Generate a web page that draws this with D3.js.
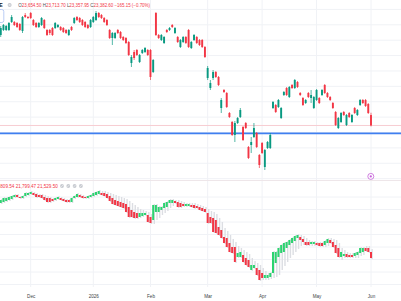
<!DOCTYPE html>
<html><head><meta charset="utf-8">
<script src="https://cdn.jsdelivr.net/npm/d3@7"></script>
<style>html,body{margin:0;padding:0;background:#fff;overflow:hidden}svg{display:block}</style>
</head><body><svg id="c" width="401" height="301"></svg>
<script>
// ---------- data ----------
const monthLabels = ["Dec","2026","Feb","Mar","Apr","May","Jun"];
const monthIndex  = [11,34,55,76,96,116,136];

const topOpen = [25735,25865,25865,25865,26073,26073,26047,26021,25839,26255,
26203,26307,26125,26047,25943,25995,26125,25865,25865,25917,
25917,25943,25943,25917,25865,25735,25943,26047,26203,26177,
26125,26073,25995,25943,26073,26125,26307,26255,26177,26125,
25865,25657,25657,25865,25813,25683,25657,25553,25007,25293,
25345,25033,25267,25293,25345,25345,24773,26307,25735,25605,
25527,25865,25865,25995,25787,25683,25423,25553,25683,25865,
25397,25605,25683,25605,25605,25423,24617,24357,24617,24773,
24643,23837,24305,24227,23707,23473,23135,23447,23603,23343,
23447,22823,22875,23083,23187,22615,22927,22303,22797,22797,
23837,23915,23863,23577,24175,24357,24123,24435,24357,24513,
24227,24097,23967,24227,24097,23837,24045,24097,24175,24435,
24227,24123,23967,23733,23317,23473,23733,23395,23707,23473,
23837,23655,23915,24045,24045,23941,23654.5];
const topHigh = [25969,26021,25995,26073,26255,26099,26073,26047,26229,26307,
26229,26333,26151,26073,26073,26203,26151,25891,25891,25943,
26073,26021,25969,25943,25891,25891,25969,26203,26229,26203,
26151,26099,26021,26151,26229,26359,26333,26281,26203,26151,
25891,25813,25813,25891,25839,25709,25683,25579,25215,25345,
25371,25241,25371,25423,25371,25371,25111,26333,25761,25761,
25709,25891,25943,26021,25943,25709,25631,25709,25709,25891,
25579,25761,25709,25631,25631,25449,24929,24565,24825,24799,
24669,24097,24331,24253,23733,23499,23499,23603,23837,23369,
23473,22849,23083,23447,23213,22641,22953,22771,22979,23187,
24019,23941,24071,23863,24279,24383,24409,24461,24591,24539,
24253,24123,24071,24253,24305,24149,24331,24123,24331,24461,
24253,24149,23993,23759,23603,23733,23759,23681,23733,23681,
23863,23811,24071,24071,24071,23967,23713.7];
const topLow = [25683,25839,25839,25839,26047,25969,25917,25839,25787,26177,
26151,26151,25969,25917,25917,25969,25891,25709,25735,25709,
25891,25917,25839,25787,25761,25709,25839,26021,26099,26047,
25969,25917,25891,25917,26047,26099,26177,26151,26047,25969,
25631,25475,25631,25761,25631,25579,25501,25189,24903,25085,
25189,25007,25241,25267,25189,24565,24747,25709,25631,25579,
25501,25787,25839,25917,25761,25527,25397,25527,25501,25397,
25371,25579,25501,25449,25397,25137,24565,24305,24565,24617,
24409,23707,24227,23837,23577,23109,22953,23421,23577,22979,
23291,22511,22667,23057,22797,22277,22641,22225,22771,22771,
23811,23707,23837,23551,24149,24149,24097,24331,24331,24357,
24149,23889,23941,24097,23967,23811,24019,23941,24149,24201,
24097,24019,23811,23369,23291,23447,23629,23369,23577,23447,
23681,23629,23889,23941,23863,23681,23357.95];
const topClose = [25917,25995,25969,26047,26203,25995,25943,25865,26203,26203,
26177,26177,25995,25943,26047,26177,25917,25735,25787,25735,
26047,25995,25865,25813,25787,25865,25865,26177,26125,26073,
25995,25943,25917,26125,26203,26307,26203,26177,26073,25995,
25657,25787,25787,25787,25657,25605,25527,25215,25163,25137,
25215,25215,25345,25397,25215,24643,25085,25735,25657,25735,
25683,25813,25917,25943,25917,25553,25605,25683,25527,25423,
25553,25735,25527,25475,25423,25163,24877,24487,24773,24643,
24435,24045,24253,23863,23603,23135,23447,23577,23785,23005,
23317,22537,22953,23317,22823,22355,22667,22745,22953,23135,
23993,23733,24045,23837,24253,24175,24383,24357,24565,24383,
24175,23915,24045,24123,24175,24123,24305,23967,24305,24227,
24123,24045,23837,23395,23577,23707,23655,23655,23603,23655,
23707,23785,24045,23967,23889,23707,23382.6];

const botOpen = [22630,22650,22670,22690,22710,22750,22790,22750,22730,22770,
22790,22810,22830,22810,22790,22790,22750,22730,22730,22710,
22690,22710,22730,22710,22690,22690,22650,22730,22750,22790,
22770,22750,22730,22750,22770,22790,22810,22830,22830,22810,
22770,22730,22690,22670,22650,22630,22610,22550,22490,22450,
22430,22350,22370,22390,22390,22350,22290,22450,22450,22490,
22530,22550,22630,22630,22670,22650,22630,22610,22570,22570,
22590,22590,22570,22550,22530,22510,22430,22350,22330,22290,
22150,22090,21950,21930,21830,21750,21750,21550,21550,21590,
21530,21490,21290,21330,21330,21290,21230,21130,21130,21150,
21230,21430,21550,21630,21650,21730,21790,21830,21870,21930,
21950,21910,21850,21850,21810,21810,21830,21830,21830,21790,
21830,21890,21850,21790,21730,21550,21570,21610,21590,21590,
21570,21590,21630,21650,21730,21730,21650];
const botHigh = [22710,22750,22750,22770,22790,22810,22810,22770,22790,22850,
22850,22870,22850,22830,22810,22810,22790,22770,22750,22730,
22750,22770,22750,22730,22710,22710,22750,22790,22830,22810,
22790,22770,22790,22810,22850,22870,22890,22870,22870,22850,
22830,22810,22790,22770,22750,22730,22710,22670,22630,22590,
22550,22510,22490,22470,22450,22410,22610,22610,22570,22570,
22650,22670,22710,22710,22690,22690,22670,22650,22630,22630,
22630,22630,22610,22590,22570,22550,22510,22470,22450,22410,
22330,22250,22130,22070,21990,21910,21850,21770,21730,21690,
21650,21610,21530,21470,21430,21390,21330,21270,21230,21250,
21670,21670,21750,21810,21850,21870,21910,21950,21990,22010,
21990,21970,21930,21890,21870,21870,21850,21850,21850,21890,
21930,21930,21910,21890,21830,21730,21690,21650,21630,21630,
21650,21670,21750,21750,21770,21770,21710];
const botLow = [22610,22630,22650,22670,22690,22730,22730,22710,22710,22750,
22770,22790,22770,22730,22730,22710,22670,22630,22630,22650,
22670,22690,22670,22650,22630,22630,22630,22710,22730,22730,
22710,22710,22710,22730,22750,22770,22790,22770,22750,22710,
22650,22590,22570,22550,22530,22510,22430,22330,22330,22310,
22310,22330,22350,22370,22230,22210,22210,22290,22330,22390,
22430,22470,22530,22570,22610,22530,22530,22550,22550,22550,
22530,22510,22510,22470,22450,22430,22210,22210,22030,22010,
21970,21910,21810,21730,21630,21610,21430,21530,21530,21430,
21370,21330,21270,21310,21170,21070,21090,21090,21090,21110,
21130,21150,21190,21290,21370,21450,21530,21590,21650,21710,
21770,21790,21770,21770,21770,21770,21770,21750,21750,21750,
21770,21810,21730,21610,21530,21490,21530,21530,21530,21530,
21530,21530,21570,21590,21650,21630,21510];
const botClose = [22690,22730,22730,22750,22770,22790,22750,22730,22770,22830,
22830,22850,22790,22750,22750,22730,22690,22650,22650,22670,
22730,22750,22690,22670,22650,22650,22730,22770,22810,22750,
22730,22730,22770,22790,22830,22850,22870,22790,22770,22730,
22670,22610,22590,22570,22550,22530,22450,22350,22350,22330,
22330,22430,22430,22430,22250,22230,22590,22590,22550,22550,
22630,22650,22690,22690,22630,22550,22550,22570,22610,22610,
22550,22530,22530,22490,22470,22450,22230,22230,22050,22030,
21990,21930,21830,21750,21650,21630,21450,21630,21650,21450,
21390,21350,21390,21390,21190,21090,21130,21190,21190,21230,
21650,21650,21730,21790,21830,21850,21890,21930,21970,21990,
21890,21850,21790,21790,21850,21850,21790,21770,21770,21870,
21910,21830,21750,21630,21550,21650,21610,21550,21550,21550,
21630,21650,21730,21730,21670,21650,21529.5];

const lastClose = 23382.6;
const hLineLevel = 23175;
const topGridValues = d3.range(22000, 26401, 400);
const botGridValues = d3.range(21000, 22751, 250);

// ---------- scales ----------
const svg = d3.select("#c");
const x = d3.scaleLinear().domain([0, 136]).range([0.73, 371]);
const yTop = d3.scaleLinear().domain([26645, 21965]).range([0, 180]);
const yBot = d3.scaleLinear().domain([26690, 20990]).range([0, 285]);

const UP = "#089981", DN = "#f23645", UP2 = "#2bd36f", DN2 = "#f23645", GHOST = "#dcdee3";

svg.append("rect").attr("width", 401).attr("height", 301).attr("fill", "#fff");
const defs = svg.append("defs");
defs.append("clipPath").attr("id", "cTop").append("rect").attr("x", 0).attr("y", 0).attr("width", 401).attr("height", 180);
defs.append("clipPath").attr("id", "cBot").append("rect").attr("x", 0).attr("y", 181).attr("width", 401).attr("height", 106);

// grid
const grid = svg.append("g");
grid.selectAll(".vg").data(monthIndex).enter().append("line")
  .attr("x1", d => x(d)).attr("x2", d => x(d)).attr("y1", 0).attr("y2", 287)
  .attr("stroke", "#f0f2f6").attr("stroke-width", 1);
grid.selectAll(".hg").data(topGridValues).enter().append("line")
  .attr("x1", 0).attr("x2", 401).attr("y1", d => yTop(d)).attr("y2", d => yTop(d))
  .attr("stroke", "#f0f2f6").attr("stroke-width", 1).attr("clip-path", "url(#cTop)");
grid.selectAll(".bg").data(botGridValues).enter().append("line")
  .attr("x1", 0).attr("x2", 401).attr("y1", d => yBot(d)).attr("y2", d => yBot(d))
  .attr("stroke", "#f0f2f6").attr("stroke-width", 1).attr("clip-path", "url(#cBot)");
// pane separator
svg.append("line").attr("x1", 0).attr("x2", 401).attr("y1", 180.5).attr("y2", 180.5)
  .attr("stroke", "#eee6e9").attr("stroke-width", 1);

// price line + horizontal drawing
svg.append("line").attr("x1", 0).attr("x2", 401).attr("y1", yTop(lastClose)).attr("y2", yTop(lastClose))
  .attr("stroke", "#f7cdd2").attr("stroke-width", 1);
svg.append("line").attr("x1", 0).attr("x2", 401).attr("y1", yTop(hLineLevel)).attr("y2", yTop(hLineLevel))
  .attr("stroke", "#3f7ff0").attr("stroke-width", 1.8);

// top candles
const topData = topOpen.map((o, i) => ({i, o, h: topHigh[i], l: topLow[i], c: topClose[i]}));
const gT = svg.append("g").attr("clip-path", "url(#cTop)");
gT.selectAll(".w").data(topData).enter().append("line")
  .attr("x1", d => x(d.i)).attr("x2", d => x(d.i))
  .attr("y1", d => yTop(d.h)).attr("y2", d => yTop(d.l))
  .attr("stroke", d => d.c >= d.o ? UP : DN).attr("stroke-width", 0.7);
gT.selectAll(".b").data(topData).enter().append("rect")
  .attr("x", d => x(d.i) - 0.95).attr("width", 1.9)
  .attr("y", d => yTop(Math.max(d.o, d.c)))
  .attr("height", d => Math.max(0.8, Math.abs(yTop(d.o) - yTop(d.c))))
  .attr("fill", d => d.c >= d.o ? UP : DN);

// bottom candles
const botData = botOpen.map((o, i) => ({i, o, h: botHigh[i], l: botLow[i], c: botClose[i]}));
const gB = svg.append("g").attr("clip-path", "url(#cBot)");
gB.selectAll(".w").data(botData).enter().append("rect")
  .attr("x", d => x(d.i) + 0.4).attr("width", 1.4)
  .attr("y", d => yBot(d.h)).attr("height", d => yBot(d.l) - yBot(d.h))
  .attr("fill", GHOST);
gB.selectAll(".b").data(botData).enter().append("rect")
  .attr("x", d => x(d.i) - 1).attr("width", 2)
  .attr("y", d => yBot(Math.max(d.o, d.c)))
  .attr("height", d => Math.max(0.9, Math.abs(yBot(d.o) - yBot(d.c))))
  .attr("fill", d => d.c >= d.o ? UP2 : DN2);

// x axis
const axis = d3.axisBottom(x).tickValues(monthIndex).tickFormat((d, k) => monthLabels[k]).tickSize(0).tickPadding(0);
const ga = svg.append("g").attr("transform", "translate(0,294.4)").call(axis);
ga.select(".domain").remove();
ga.selectAll("text").attr("font-family", "'Liberation Sans', Arial, sans-serif")
  .attr("font-size", 4.6).attr("fill", "#3d3f45");

// top legend
const FONT = "'Liberation Sans', Arial, sans-serif";
svg.append("rect").attr("x", -3.5).attr("y", 9.5).attr("width", 7.3).attr("height", 13).attr("rx", 2)
  .attr("fill", "#fff").attr("stroke", "#a9c0f2").attr("stroke-width", 0.8);
svg.append("text").attr("x", -0.8).attr("y", 7).attr("font-family", FONT).attr("font-size", 5.2)
  .attr("font-weight", "bold").attr("fill", "#131722").text("E");
svg.append("circle").attr("cx", 9.6).attr("cy", 5).attr("r", 2).attr("fill", "#c3c6cd");
svg.append("line").attr("x1", 8.6).attr("x2", 10.6).attr("y1", 4.5).attr("y2", 4.5).attr("stroke", "#fff").attr("stroke-width", 0.45);
svg.append("line").attr("x1", 8.6).attr("x2", 10.6).attr("y1", 5.5).attr("y2", 5.5).attr("stroke", "#fff").attr("stroke-width", 0.45);
const leg = svg.append("text").attr("x", 18.3).attr("y", 6.7).attr("font-family", FONT).attr("font-size", 4.6)
  .attr("textLength", 131.7).attr("lengthAdjust", "spacingAndGlyphs");
const legParts = [["O", "#4a4d55"], ["23,654.50 ", DN], ["H", "#4a4d55"], ["23,713.70 ", DN], ["L", "#4a4d55"], ["23,357.95 ", DN], ["C", "#4a4d55"], ["23,382.60 −165.15 (−0.70%)", DN]];
legParts.forEach(p => leg.append("tspan").attr("fill", p[1]).text(p[0]));

// bottom legend
svg.append("text").attr("x", 0.3).attr("y", 187.8).attr("font-family", FONT).attr("font-size", 4.6)
  .attr("textLength", 57.5).attr("lengthAdjust", "spacingAndGlyphs").attr("fill", DN)
  .text("809.54 21,799.47 21,529.50");
[62, 68.3, 74.6, 80.9].forEach(cx => {
  svg.append("circle").attr("cx", cx).attr("cy", 186).attr("r", 1.9).attr("fill", "#c7cad0");
  svg.append("line").attr("x1", cx - 1).attr("x2", cx + 1).attr("y1", 187).attr("y2", 185).attr("stroke", "#fff").attr("stroke-width", 0.5);
});

// purple event marker
svg.append("circle").attr("cx", 370.8).attr("cy", 176.4).attr("r", 3).attr("fill", "#fff")
  .attr("stroke", "#c45fd8").attr("stroke-width", 0.8);
svg.append("circle").attr("cx", 370.8).attr("cy", 176.4).attr("r", 1.1).attr("fill", "#c45fd8");
</script></body></html>
